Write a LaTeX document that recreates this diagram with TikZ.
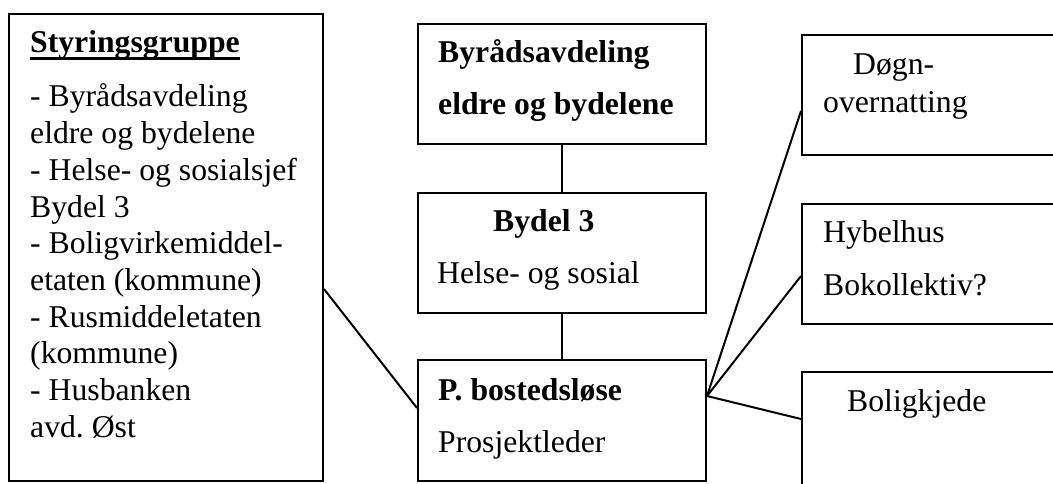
\documentclass[tikz,border=0pt]{standalone}
\usepackage{fontspec}
\setmainfont{Liberation Serif}
\usetikzlibrary{positioning}
\frenchspacing

\begin{document}
\begin{tikzpicture}[x=1pt,y=-1pt,
  box/.style={draw, line width=2pt, rectangle, inner sep=0pt, anchor=north west},
  txt/.style={anchor=base west, inner sep=0pt, font=\fontsize{31.7}{36.7}\selectfont},
  link/.style={line width=2pt}]

  \useasboundingbox (0,0) rectangle (1053,484);
  \clip (0,0) rectangle (1053,484);

  % Styringsgruppe
  \node[box, minimum width=314pt, minimum height=467pt] (styr) at (8,13) {};
  \node[txt] (styrhead) at (30,53) {\textbf{Styringsgruppe}};
  \draw[line width=3pt] ([yshift=-6pt]styrhead.base west) -- ([yshift=-6pt]styrhead.base east);
  \foreach \t [count=\i from 0] in {- Byrådsavdeling, eldre og bydelene,
      - Helse- og sosialsjef, Bydel 3, - Boligvirkemiddel-, etaten (kommune),
      - Rusmiddeletaten, (kommune), - Husbanken, avd. Øst}
    \node[txt] (styr\i) at (30,{107+36.7*\i}) {\t};

  % middle column
  \node[box, minimum width=288pt, minimum height=120pt] (byrad) at (417,23) {};
  \node[txt] (byrad1) at (438,63) {\textbf{Byrådsavdeling}};
  \node[txt] (byrad2) at (438,115) {\textbf{eldre og bydelene}};

  \node[box, minimum width=288pt, minimum height=120pt] (bydel) at (417,192) {};
  \node[txt] (bydel1) at (493,232) {\textbf{Bydel 3}};
  \node[txt] (bydel2) at (437,283) {Helse- og sosial};

  \node[box, minimum width=288pt, minimum height=121pt] (pbost) at (417,359) {};
  \node[txt] (pbost1) at (438,400) {\textbf{P. bostedsløse}};
  \node[txt] (pbost2) at (438,452) {Prosjektleder};

  % right column
  \node[box, minimum width=300pt, minimum height=120pt] (dogn) at (801,34) {};
  \node[txt] (dogn1) at (853,75) {Døgn-};
  \node[txt] (dogn2) at (823,113) {overnatting};

  \node[box, minimum width=300pt, minimum height=120pt] (hybel) at (801,203) {};
  \node[txt] (hybel1) at (823,243) {Hybelhus};
  \node[txt] (hybel2) at (823,295) {Bokollektiv?};

  \node[box, minimum width=300pt, minimum height=130pt] (bolig) at (801,371) {};
  \node[txt] (bolig1) at (847,411) {Boligkjede};

  % connectors
  \draw[link] (byrad.south) -- (bydel.north);
  \draw[link] (bydel.south) -- (pbost.north);
  \draw[link] ([yshift=-41.5pt]styr.east) -- ([yshift=12.5pt]pbost.west);
  \draw[link] ([yshift=24.5pt]pbost.east) -- ([yshift=-16pt]dogn.west);
  \draw[link] ([yshift=24.5pt]pbost.east) -- ([yshift=-12pt]hybel.west);
  \draw[link] ([yshift=24.5pt]pbost.east) -- ([yshift=18pt]bolig.west);

\end{tikzpicture}
\end{document}
